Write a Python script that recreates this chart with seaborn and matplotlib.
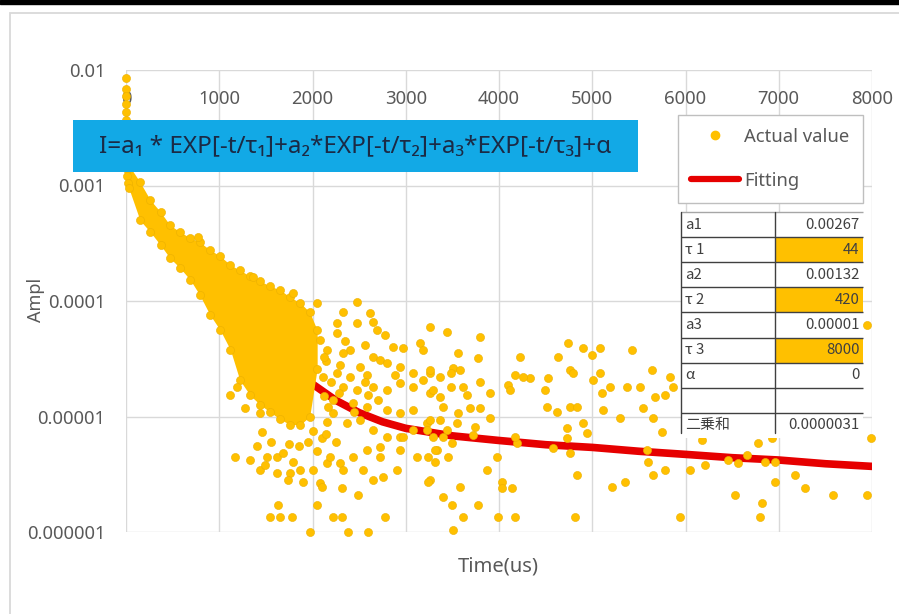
import numpy as np
import pandas as pd
import matplotlib
matplotlib.use("Agg")
import matplotlib.pyplot as plt
import seaborn as sns
from matplotlib.patches import Rectangle
from matplotlib.lines import Line2D
from matplotlib.ticker import NullLocator

# ---------------- data ----------------
X_TICKS = [0, 1000, 2000, 3000, 4000, 5000, 6000, 7000, 8000]
X_LABELS = ["0", "1000", "2000", "3000", "4000", "5000", "6000", "7000", "8000"]
Y_TICKS = [1e-2, 1e-3, 1e-4, 1e-5, 1e-6]
Y_LABELS = ["0.01", "0.001", "0.0001", "0.00001", "0.000001"]

# vertical streak of points at t≈0
STREAK_T = [5, 5, 5, 5, 5, 5, 10, 10, 10, 10, 10, 10, 15, 20]
STREAK_V = [8.5e-3, 6.9e-3, 6.0e-3, 5.1e-3, 4.3e-3, 3.7e-3, 3.1e-3, 2.7e-3,
            2.3e-3, 1.95e-3, 1.65e-3, 1.4e-3, 1.2e-3, 1.05e-3]

# envelope of the dense (overlapping) point cloud
DENSE_T = [30, 150, 260, 370, 470, 580, 690, 790, 900, 1010, 1120, 1220, 1330,
           1440, 1540, 1650, 1760, 1870, 1970, 2050]
DENSE_HI = [1.5e-3, 1.07e-3, 7.5e-4, 5.9e-4, 4.55e-4, 3.96e-4, 3.51e-4, 3.24e-4,
            2.77e-4, 2.45e-4, 2.05e-4, 1.85e-4, 1.64e-4, 1.49e-4, 1.35e-4,
            1.25e-4, 1.08e-4, 9.6e-5, 8.0e-5, 5.6e-5]
DENSE_LO = [9.5e-4, 5.0e-4, 3.96e-4, 3.05e-4, 2.36e-4, 1.93e-4, 1.52e-4, 1.13e-4,
            7.6e-5, 5.6e-5, 3.77e-5, 2.07e-5, 1.53e-5, 1.26e-5, 1.1e-5, 9.5e-6,
            8.5e-6, 8.5e-6, 1.0e-5, 2.6e-5]

# bumps just above the dense cloud
EDGE_T = [770, 1360, 1790]
EDGE_V = [3.6e-4, 1.6e-4, 1.17e-4]

# scattered points right of the dense cloud (t 2000-3500)
CLOUD_T = [2050, 2480, 2330, 2620, 2650, 2480, 2690, 2260, 2780, 3260, 3440, 3150,
           3190, 2860, 2970, 2400, 2080, 2160, 2330, 2650, 2720, 2800, 2940, 3080,
           3260, 3370, 2510, 2580, 2400, 2260, 2110, 2330, 2480, 2650, 2800, 2940,
           3080, 3260, 3370, 2220, 2430, 2580, 2800, 2940, 3080, 3230, 3370, 2220,
           2370, 2510, 2650, 2800, 2940, 3080, 3290, 3440,
           2150, 2200, 2280, 2120, 2170, 2300, 2560, 2700, 2450, 2350, 2560, 2880,
           2120, 2260, 2160, 2600]
CLOUD_V = [9.6e-5, 9.8e-5, 8.0e-5, 7.9e-5, 6.6e-5, 6.5e-5, 5.6e-5, 5.3e-5, 5.1e-5,
           6.0e-5, 5.4e-5, 4.3e-5, 3.8e-5, 4.0e-5, 3.9e-5, 3.8e-5, 4.6e-5, 3.8e-5,
           3.55e-5, 3.3e-5, 3.1e-5, 2.9e-5, 2.7e-5, 2.4e-5, 2.4e-5, 2.2e-5, 2.7e-5,
           2.3e-5, 2.2e-5, 2.4e-5, 2.2e-5, 1.8e-5, 1.7e-5, 1.8e-5, 1.7e-5, 1.95e-5,
           1.8e-5, 1.6e-5, 1.47e-5, 1.39e-5, 1.31e-5, 1.21e-5, 1.14e-5, 1.07e-5,
           1.14e-5, 8.8e-6, 9.3e-6, 1.07e-5, 8.8e-6, 9.3e-6, 7.6e-6, 6.65e-6,
           6.65e-6, 7.6e-6, 6.65e-6, 7.6e-6,
           3.0e-5, 2.0e-5, 1.6e-5, 1.5e-5, 1.2e-5, 2.8e-5, 2.0e-5, 1.4e-5, 1.1e-5,
           4.5e-5, 4.2e-5, 2.3e-5, 3.3e-5, 6.5e-5, 9.0e-6, 1.55e-5]

# scattered points below the dense cloud
LOW_T = [1115, 1190, 1280, 1440, 1460, 1170, 1330, 1440, 1510, 1620, 1620, 1760,
         1740, 1870, 2005, 1900, 2080, 2160, 2190, 2300, 2330, 2430, 2540, 2580,
         2720, 2720, 2650, 2760, 2910, 2940, 2970, 3120, 3260, 3340, 3400, 2100,
         2320, 2490, 1630, 1540, 1650, 1780, 2050, 2220, 2320, 2780, 1970, 2380,
         2600, 1680, 1790, 1490, 1850, 1950, 2050, 2100, 1750, 2000, 2150, 2250,
         1400, 1560]
LOW_V = [1.53e-5, 1.8e-5, 1.19e-5, 1.07e-5, 7.3e-6, 4.46e-6, 4.2e-6, 3.44e-6,
         4.46e-6, 4.46e-6, 3.24e-6, 3.24e-6, 2.82e-6, 3.44e-6, 3.44e-6, 2.71e-6,
         2.65e-6, 3.95e-6, 4.46e-6, 3.95e-6, 3.44e-6, 4.46e-6, 3.44e-6, 5.1e-6,
         5.45e-6, 4.46e-6, 2.82e-6, 3.0e-6, 3.44e-6, 5.1e-6, 6.65e-6, 4.46e-6,
         2.82e-6, 5.1e-6, 2.0e-6, 2.45e-6, 2.4e-6, 2.09e-6, 1.71e-6, 1.35e-6,
         1.35e-6, 1.35e-6, 1.71e-6, 1.35e-6, 1.35e-6, 1.35e-6, 1.0e-6, 1.0e-6,
         1.0e-6, 4.8e-6, 4.04e-6, 3.8e-6, 5.5e-6, 6.0e-6, 5.0e-6, 6.5e-6, 5.8e-6,
         7.5e-6, 7.0e-6, 6.0e-6, 5.5e-6, 6.0e-6]

# scattered points, t 3200-6000
MID_T = [3800, 3560, 3780, 4230, 4630, 4740, 4900, 5000, 5080, 5430, 5640, 5830,
         5870, 5780, 5670, 5510, 5370, 5190, 5100, 5080, 5010, 4760, 4790, 4530,
         4490, 4330, 4260, 4170, 4100, 4120, 3900, 3800, 3660, 3610, 3510, 3580,
         3480, 3260, 3190, 3290, 3480, 3400, 3560, 3690, 3800, 3900, 3550, 3260,
         3230, 3740, 3720, 3500, 3400, 3310, 3310, 3450, 3240, 3980, 3870, 3240,
         3580, 4030, 4030, 4140, 3500, 3780, 3610, 3990, 4170, 3510, 4190, 4170,
         4520, 4620, 4760, 4840, 4730, 4900, 4940, 4730, 4580, 4760, 4840, 4820,
         5210, 5350, 5300, 5590, 5600, 5650, 5780, 5650, 5750, 5940, 5120, 5540]
MID_V = [4.9e-5, 3.55e-5, 3.2e-5, 3.27e-5, 3.27e-5, 4.3e-5, 3.9e-5, 3.4e-5, 3.9e-5,
         3.77e-5, 2.53e-5, 2.2e-5, 1.8e-5, 1.53e-5, 1.47e-5, 1.8e-5, 1.8e-5,
         1.8e-5, 1.6e-5, 2.38e-5, 2.07e-5, 2.53e-5, 2.38e-5, 2.15e-5, 1.7e-5,
         2.15e-5, 2.2e-5, 2.29e-5, 1.88e-5, 1.7e-5, 1.6e-5, 1.99e-5, 1.53e-5,
         1.8e-5, 2.63e-5, 2.53e-5, 2.38e-5, 2.53e-5, 2.07e-5, 1.7e-5, 1.8e-5,
         1.21e-5, 1.07e-5, 1.19e-5, 1.19e-5, 9.7e-6, 8.8e-6, 9.3e-6, 7.6e-6,
         8.1e-6, 6.9e-6, 5.9e-6, 6.65e-6, 5.1e-6, 4.04e-6, 4.46e-6, 4.46e-6,
         4.46e-6, 3.44e-6, 2.71e-6, 2.45e-6, 2.71e-6, 2.4e-6, 2.4e-6, 1.71e-6,
         1.71e-6, 1.35e-6, 1.35e-6, 1.35e-6, 1.04e-6, 5.9e-6, 6.65e-6, 1.21e-5,
         1.09e-5, 1.21e-5, 1.21e-5, 7.9e-6, 8.8e-6, 7.2e-6, 6.5e-6, 5.3e-6,
         4.8e-6, 3.12e-6, 1.35e-6, 2.45e-6, 2.71e-6, 9.7e-6, 5.1e-6, 4.04e-6,
         3.12e-6, 3.44e-6, 9.7e-6, 7.3e-6, 1.35e-6, 1.14e-5, 1.19e-5]

# scattered points, t 6000-8000
FAR_T = [7950, 6180, 6780, 6930, 7990, 6050, 6210, 6460, 6560, 6660, 6850, 6960,
         6960, 7170, 7280, 7580, 7950, 6530, 6820, 6800]
FAR_V = [6.2e-5, 6.3e-6, 5.9e-6, 6.5e-6, 6.5e-6, 3.44e-6, 3.8e-6, 4.2e-6, 3.95e-6,
         4.6e-6, 4.04e-6, 4.04e-6, 2.71e-6, 3.12e-6, 2.4e-6, 2.09e-6, 2.09e-6,
         2.09e-6, 1.78e-6, 1.35e-6]

# fitting curve (visible part)
FIT_T = [1870, 2000, 2250, 2500, 2750, 3000, 3500, 4000, 4500, 5000, 5500, 6000,
         6500, 7000, 7500, 8000]
FIT_V = [2.2e-5, 1.91e-5, 1.38e-5, 1.08e-5, 9.0e-6, 7.9e-6, 6.8e-6, 6.2e-6, 5.7e-6,
         5.4e-6, 5.0e-6, 4.7e-6, 4.4e-6, 4.2e-6, 3.9e-6, 3.7e-6]

TABLE_LABELS = ["a1", "τ 1", "a2", "τ 2", "a3", "τ 3", "α", "", "二乗和"]
TABLE_VALUES = ["0.00267", "44", "0.00132", "420", "0.00001", "8000", "0", "", "0.0000031"]
TABLE_HIGHLIGHT = [False, True, False, True, False, True, False, False, False]

FORMULA = "I=a₁ * EXP[-t/τ₁]+a₂*EXP[-t/τ₂]+a₃*EXP[-t/τ₃]+α"

# ---------------- styling ----------------
sns.set_theme(style="white")
plt.rcParams['font.family'] = ['Noto Sans', 'DejaVu Sans']

GOLD = "#FFC000"
GOLD_EDGE = "#EBB000"
RED = "#E60000"
GRID = "#d9d9d9"
TXT = "#595959"
TBL_LINE = "#404040"

fig = plt.figure(figsize=(8.99, 6.14), dpi=100)
ax = fig.add_axes([126 / 899, 82 / 614, 746 / 899, 462 / 614])
ax.set_yscale("log")
ax.set_xlim(0, 8000)
ax.set_ylim(1e-6, 1e-2)
for s in ax.spines.values():
    s.set_visible(False)

for xt in X_TICKS:
    ax.axvline(xt, color=GRID, lw=1.0, zorder=0.5)
for yt in Y_TICKS:
    ax.axhline(yt, color=GRID, lw=1.0, zorder=0.5)

# fitting line (under points)
sns.lineplot(x=FIT_T, y=FIT_V, color=RED, lw=5.5, ax=ax, zorder=1.5,
             legend=False)

# dense cloud
ax.fill_between(DENSE_T, DENSE_LO, DENSE_HI, color=GOLD, lw=0, zorder=2)

pts = pd.DataFrame({
    "t": STREAK_T + DENSE_T + DENSE_T + EDGE_T + CLOUD_T + LOW_T + MID_T + FAR_T,
    "v": STREAK_V + DENSE_HI + DENSE_LO + EDGE_V + CLOUD_V + LOW_V + MID_V + FAR_V,
})
sns.scatterplot(data=pts, x="t", y="v", color=GOLD, s=34, edgecolor=GOLD_EDGE,
                linewidth=0.4, ax=ax, zorder=2, clip_on=False, legend=False)

# ticks
ax.set_xticks(X_TICKS)
ax.set_xticklabels(X_LABELS)
ax.xaxis.tick_top()
ax.tick_params(axis="x", length=0, pad=-27, labelsize=13.3, colors=TXT,
               labeltop=True, labelbottom=False)
ax.set_yticks(Y_TICKS)
ax.set_yticklabels(Y_LABELS)
ax.yaxis.set_minor_locator(NullLocator())
ax.tick_params(axis="y", length=0, pad=15, labelsize=13.3, colors=TXT)

ax.set_ylabel("Ampl", fontsize=13, color=TXT)
ax.yaxis.set_label_coords(-0.108, 0.502)
ax.xaxis.set_label_position("bottom")
ax.set_xlabel("Time(us)", fontsize=14.5, color=TXT)
ax.xaxis.set_label_coords(0.4987, -0.052)

# formula box
ax.add_patch(Rectangle((-0.071, 0.779), 0.757, 0.1126, transform=ax.transAxes,
                       facecolor="#12A9E6", edgecolor="none", clip_on=False,
                       zorder=5))
ax.text(0.307, 0.8355, FORMULA, transform=ax.transAxes, ha="center",
        va="center", fontsize=17.5, color="#1B2A45", zorder=6)

# legend
handles = [Line2D([], [], marker="o", ls="none", color=GOLD, markersize=6),
           Line2D([], [], color=RED, lw=4.5)]
leg = ax.legend(handles, ["Actual value", "Fitting"], loc="upper left",
                bbox_to_anchor=(678 / 899, 1 - 115 / 614),
                bbox_transform=fig.transFigure, frameon=True, fancybox=False,
                edgecolor="#bfbfbf", framealpha=1, fontsize=13.3,
                labelcolor=TXT, handlelength=2.6, handletextpad=0.3,
                labelspacing=1.4, borderpad=0.7, borderaxespad=0)
leg.set_zorder(7)
leg.get_frame().set_linewidth(1.0)

# parameter table
TB_X, TB_Y, TB_W, TB_H = 0.744, 0.2035, 0.244, 0.489
COL0 = 0.516
cell_text = [[a, b] for a, b in zip(TABLE_LABELS, TABLE_VALUES)]
tbl = ax.table(cellText=cell_text, colWidths=[COL0, 1 - COL0], cellLoc="right",
               bbox=[TB_X, TB_Y, TB_W, TB_H], zorder=6)
tbl.auto_set_font_size(False)
for (r, c), cell in tbl.get_celld().items():
    face = GOLD if (c == 1 and TABLE_HIGHLIGHT[r]) else "white"
    cell.set_facecolor(face)
    cell.set_edgecolor(face)
    cell.set_linewidth(0)
    cell.PAD = 0.04
    cell.set_text_props(fontsize=10.8, color="#404040",
                        family=["Noto Sans CJK JP", "DejaVu Sans"],
                        ha="left" if c == 0 else "right")

n_rows = len(TABLE_LABELS)
for k in range(1, n_rows + 1):
    yy = TB_Y + TB_H * k / n_rows
    ax.plot([TB_X, TB_X + TB_W], [yy, yy], transform=ax.transAxes,
            color=TBL_LINE if k < n_rows else "#a6a6a6", lw=1.0,
            clip_on=False, zorder=6.5, solid_capstyle="butt")
for xx in (TB_X, TB_X + TB_W * COL0):
    ax.plot([xx, xx], [TB_Y + 0.01, TB_Y + TB_H], transform=ax.transAxes,
            color=TBL_LINE, lw=1.0, clip_on=False, zorder=6.5)

# outer decorations (screenshot frame)
fig.patches.append(Rectangle((10 / 899, -0.05), 1.2, 1 - 13 / 614 + 0.05,
                             transform=fig.transFigure, fill=False,
                             edgecolor=GRID, lw=1.3))
fig.patches.append(Rectangle((0, 1 - 4 / 614), 1, 4 / 614,
                             transform=fig.transFigure, color="black"))

fig.savefig("out.png", dpi=100)
